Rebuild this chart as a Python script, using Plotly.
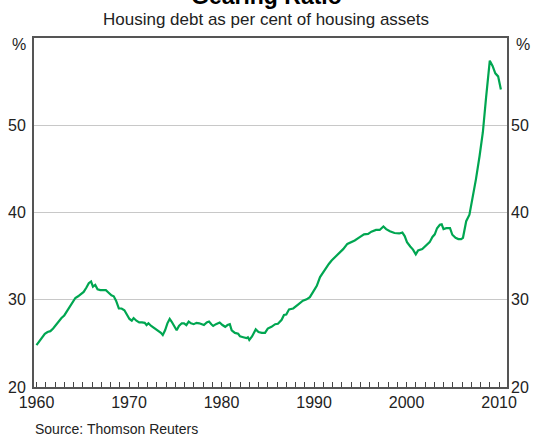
import plotly.graph_objects as go

dates = [
    1960.0, 1960.3, 1960.6, 1960.9, 1961.2, 1961.5, 1961.8, 1962.1, 1962.4, 1962.7,
    1963.0, 1963.3, 1963.6, 1963.9, 1964.2, 1964.5, 1964.8, 1965.1, 1965.4, 1965.65,
    1965.9, 1966.1, 1966.35, 1966.6, 1966.9, 1967.2, 1967.5, 1967.8, 1968.1, 1968.35,
    1968.6, 1968.9, 1969.2, 1969.5, 1969.8, 1970.05, 1970.3, 1970.5, 1970.8, 1971.1,
    1971.4, 1971.7, 1971.9, 1972.1, 1972.4, 1972.7, 1972.95, 1973.2, 1973.45, 1973.65,
    1973.9, 1974.15, 1974.4, 1974.6, 1974.9, 1975.15, 1975.4, 1975.7, 1975.95, 1976.2,
    1976.45, 1976.7, 1977.0, 1977.3, 1977.6, 1977.85, 1978.1, 1978.4, 1978.65, 1978.9,
    1979.1, 1979.4, 1979.8, 1980.1, 1980.4, 1980.65, 1980.9, 1981.1, 1981.45, 1981.8,
    1982.0, 1982.35, 1982.7, 1982.85, 1983.0, 1983.3, 1983.7, 1984.0, 1984.35, 1984.7,
    1985.0, 1985.4, 1985.8, 1986.1, 1986.5, 1986.75, 1987.0, 1987.3, 1987.75, 1988.1,
    1988.4, 1988.8, 1989.2, 1989.55, 1989.9, 1990.3, 1990.65, 1991.0, 1991.3, 1991.6,
    1991.9, 1992.25, 1992.7, 1993.15, 1993.6, 1994.05, 1994.4, 1994.9, 1995.4, 1995.85,
    1996.2, 1996.7, 1997.1, 1997.5, 1997.8, 1998.2, 1998.7, 1999.2, 1999.55, 1999.8,
    2000.05, 2000.4, 2000.7, 2001.0, 2001.25, 2001.7, 2002.15, 2002.5, 2002.8, 2003.05,
    2003.3, 2003.6, 2003.8, 2004.0, 2004.3, 2004.7, 2004.95, 2005.3, 2005.6, 2005.9,
    2006.1, 2006.25, 2006.45, 2006.8, 2007.2, 2007.5, 2007.9, 2008.25, 2008.6, 2009.0,
    2009.3, 2009.6, 2009.9, 2010.2,
]
gearing = [
    24.8, 25.2, 25.6, 26.1, 26.3, 26.4, 26.7, 27.1, 27.6, 27.9,
    28.2, 28.7, 29.2, 29.8, 30.2, 30.4, 30.6, 30.9, 31.4, 31.9,
    32.1, 31.5, 31.7, 31.2, 31.1, 31.1, 31.1, 30.8, 30.5, 30.4,
    29.9, 29.0, 29.0, 28.8, 28.3, 27.8, 27.6, 27.9, 27.6, 27.4,
    27.4, 27.35, 27.1, 27.3, 27.0, 26.8, 26.6, 26.45, 26.2, 25.95,
    26.5, 27.3, 27.8, 27.5, 26.9, 26.5, 27.0, 27.3, 27.3, 27.1,
    27.5, 27.3, 27.2, 27.35, 27.3, 27.2, 27.1, 27.4, 27.5, 27.2,
    27.0, 27.2, 27.4, 27.1, 26.9, 27.1, 27.2, 26.5, 26.2, 26.1,
    25.8, 25.7, 25.6, 25.7, 25.4, 25.8, 26.6, 26.3, 26.2, 26.2,
    26.7, 26.9, 27.2, 27.25, 27.7, 28.25, 28.3, 28.9, 29.0, 29.3,
    29.6, 29.9, 30.05, 30.3, 30.9, 31.6, 32.6, 33.2, 33.6, 34.1,
    34.5, 34.85, 35.4, 35.8, 36.4, 36.6, 36.8, 37.15, 37.5, 37.55,
    37.8, 38.0, 38.0, 38.4, 38.1, 37.85, 37.65, 37.6, 37.7, 37.3,
    36.6, 36.1, 35.75, 35.2, 35.65, 35.8, 36.2, 36.6, 37.2, 37.5,
    38.2, 38.6, 38.65, 38.1, 38.2, 38.2, 37.45, 37.1, 36.95, 36.95,
    37.1, 38.0, 39.0, 39.75, 41.9, 43.8, 46.5, 49.2, 53.2, 57.4,
    56.8, 55.95, 55.6, 54.1,
]

year_ticks = list(range(1960, 2011))
year_labels = [str(y) if y % 10 == 0 else "" for y in year_ticks]
y_ticks = [20, 30, 40, 50]

title_text = "Gearing Ratio"
subtitle_text = "Housing debt as per cent of housing assets"
source_text = "Source: Thomson Reuters"

FONT = "Liberation Sans, Arial, sans-serif"
BORDER = "#555555"

W, H = 535, 437
L, R, T, B = 34, 28, 38, 50
ph = H - T - B
pw = W - L - R

def py(pix):
    return (H - B - pix) / ph

def px(pix):
    return (pix - L) / pw

fig = go.Figure()
fig.add_trace(go.Scatter(
    x=dates, y=gearing, mode="lines",
    line=dict(color="#00A651", width=2.2),
    showlegend=False, hoverinfo="skip",
))
# invisible trace for right axis
fig.add_trace(go.Scatter(
    x=[dates[0]], y=[gearing[0]], yaxis="y2", mode="lines",
    line=dict(width=0), showlegend=False, hoverinfo="skip",
))

fig.update_layout(
    width=W, height=H,
    margin=dict(l=L, r=R, t=T, b=B, pad=0, autoexpand=False),
    paper_bgcolor="white", plot_bgcolor="white",
    font=dict(family=FONT, size=16, color="#222222"),
    xaxis=dict(
        range=[1959.73, 2010.86],
        tickmode="array", tickvals=year_ticks, ticktext=year_labels,
        ticks="inside", ticklen=5, tickwidth=1, tickcolor="#444444",
        showline=True, linecolor=BORDER, linewidth=2, mirror=True,
        showgrid=False, zeroline=False, automargin=False,
        tickfont=dict(family=FONT, size=16, color="#222222"),
    ),
    yaxis=dict(
        range=[20, 60],
        tickmode="array", tickvals=y_ticks,
        ticks="", showline=True, linecolor=BORDER, linewidth=2, mirror=True,
        showgrid=True, gridcolor="#c8c8c8", gridwidth=1,
        zeroline=False, ticklabelstandoff=3, automargin=False,
        tickfont=dict(family=FONT, size=16, color="#222222"),
    ),
    yaxis2=dict(
        range=[20, 60], overlaying="y", side="right",
        tickmode="array", tickvals=y_ticks,
        ticks="", showline=False, showgrid=False, zeroline=False,
        ticklabelstandoff=3, automargin=False,
        tickfont=dict(family=FONT, size=16, color="#222222"),
    ),
    annotations=[
        dict(text="<b>" + title_text + "</b>", xref="paper", yref="paper",
             x=px(266), y=py(-4), xanchor="center", yanchor="middle",
             showarrow=False, font=dict(family=FONT, size=23, color="#000000")),
        dict(text=subtitle_text, xref="paper", yref="paper",
             x=px(266), y=py(19), xanchor="center", yanchor="middle",
             showarrow=False, font=dict(family=FONT, size=17, color="#222222")),
        dict(text="%", xref="paper", yref="paper",
             x=px(18.5), y=py(45), xanchor="center", yanchor="middle",
             showarrow=False, font=dict(family=FONT, size=16, color="#222222")),
        dict(text="%", xref="paper", yref="paper",
             x=px(522.5), y=py(45), xanchor="center", yanchor="middle",
             showarrow=False, font=dict(family=FONT, size=16, color="#222222")),
        dict(text=source_text, xref="paper", yref="paper",
             x=px(33), y=py(429), xanchor="left", yanchor="middle",
             showarrow=False, font=dict(family=FONT, size=14, color="#222222")),
    ],
)

fig.write_html(
    "out.html",
    config={"displayModeBar": False},
    post_script="document.body.style.margin='0';document.body.style.padding='0';",
)
